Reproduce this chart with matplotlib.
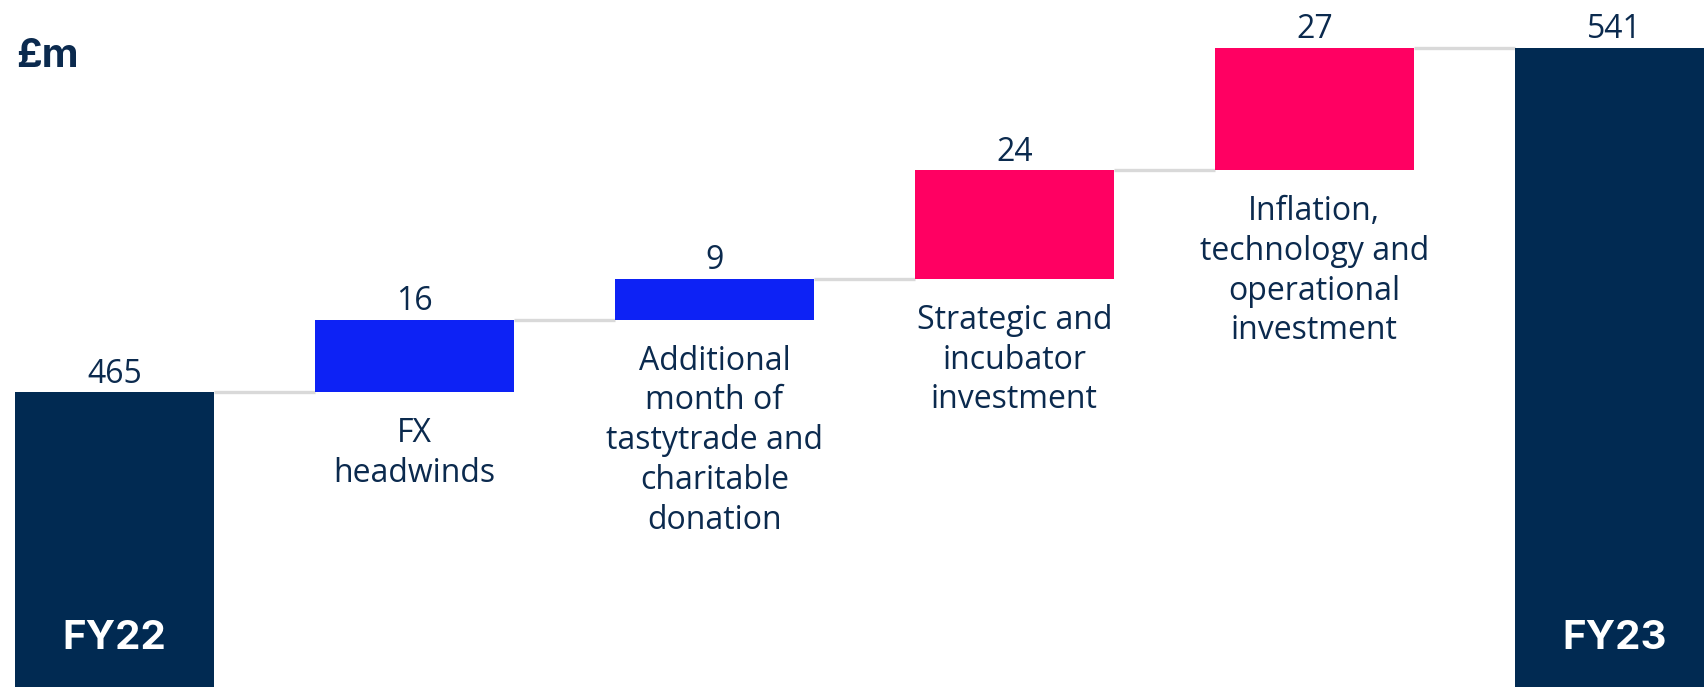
import matplotlib.pyplot as plt
import matplotlib.transforms as mtransforms
import numpy as np

# waterfall data, £m
steps = ["FY22", "FX\nheadwinds",
         "Additional\nmonth of\ntastytrade and\ncharitable\ndonation",
         "Strategic and\nincubator\ninvestment",
         "Inflation,\ntechnology and\noperational\ninvestment", "FY23"]
values = [465, 16, 9, 24, 27, 541]
is_total = [True, False, False, False, False, True]
bar_colors = ["#012a52", "#0d22f5", "#0d22f5", "#ff0062", "#ff0062", "#012a52"]

navy = "#0b2a4e"
plt.rcParams['font.family'] = ['Open Sans', 'DejaVu Sans']

fig = plt.figure(figsize=(17.04, 6.87), dpi=100)
ax = fig.add_axes([0, 0, 1, 1])

x = np.arange(len(values))
width = 0.663
bottoms = []
tops = []
running = 0
for i, v in enumerate(values):
    if is_total[i]:
        bottoms.append(0)
        tops.append(v)
        running = v
    else:
        bottoms.append(running)
        running += v
        tops.append(running)
heights = [t - b for t, b in zip(tops, bottoms)]

ax.bar(x, heights, bottom=bottoms, width=width, color=bar_colors, zorder=3)

# connectors
for i in range(len(values) - 1):
    ax.plot([x[i] + width / 2, x[i + 1] - width / 2], [tops[i], tops[i]],
            color="#d9d9d9", lw=2.4, zorder=2, solid_capstyle='butt')

# value labels
for i, v in enumerate(values):
    ax.annotate(str(v), (x[i], tops[i]), xytext=(0, 1), textcoords='offset points',
                ha='center', va='bottom', fontsize=23, color=navy)

# step labels under the floating bars
for i, lab in enumerate(steps):
    if is_total[i]:
        tr = mtransforms.blended_transform_factory(ax.transData, ax.transAxes)
        ax.text(x[i], 0.07, lab, transform=tr, ha='center', va='center',
                fontsize=29, fontweight='bold', color='white',
                family=['Inter', 'DejaVu Sans'], zorder=4)
    else:
        ax.annotate(lab, (x[i], bottoms[i]), xytext=(0, -18), textcoords='offset points',
                    ha='center', va='top', fontsize=23, color=navy, linespacing=1.27)

fig.text(0.0096, 0.918, "£m", ha='left', va='center', fontsize=29,
         fontweight='bold', color=navy, family=['Inter', 'DejaVu Sans'])

ax.set_xlim(-0.382, 5.299)
ax.set_ylim(400, 551.5)
ax.axis('off')

fig.savefig("out.png", dpi=100, facecolor='white')
